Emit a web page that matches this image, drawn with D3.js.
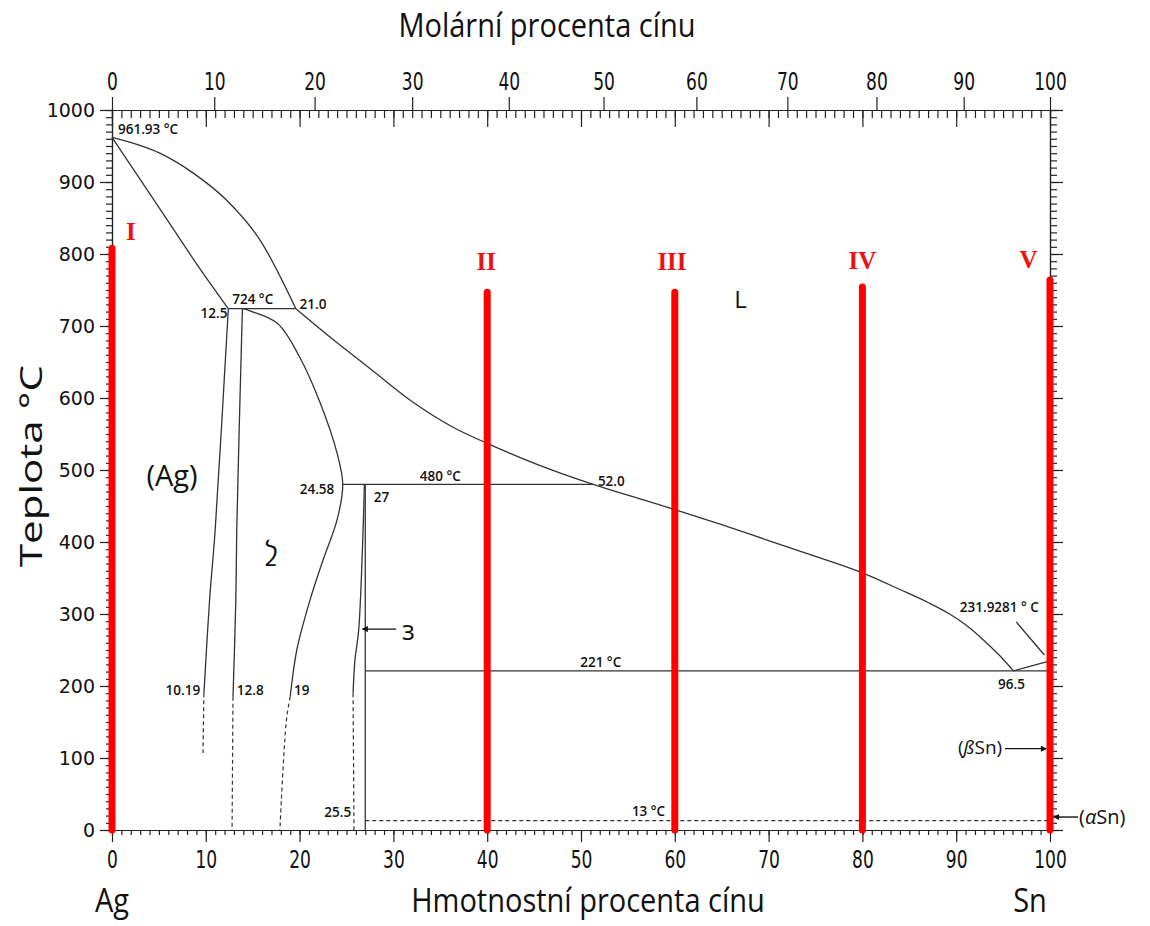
<!DOCTYPE html>
<html lang="cs">
<head>
<meta charset="utf-8">
<title>Fázový diagram Ag-Sn</title>
<script src="https://d3js.org/d3.v7.min.js"></script>
<style>
  body { margin: 0; background: #fff; }
  .osa path, .osa line { stroke: #222; stroke-width: 1.2; }
  .osa-dole text, .osa-nahore text { font-family: "Liberation Sans Narrow", "DejaVu Sans Condensed", sans-serif; font-size: 19px; fill: #111; }
  .osa-vlevo text { font-family: "DejaVu Sans", Verdana, sans-serif; font-size: 19px; fill: #111; }
  .titul { font-family: "Open Sans", sans-serif; font-size: 29px; font-weight: 500; fill: #111; }
  .cisla { font-family: "Open Sans", sans-serif; font-size: 13.5px; font-weight: 600; fill: #111; }
  .faze { font-family: "Open Sans", sans-serif; fill: #111; }
  .rimske { font-family: "Liberation Serif", "DejaVu Serif", serif; font-weight: bold; font-size: 25px; fill: #ee1111; }
  .krivka { fill: none; stroke: #333; stroke-width: 1.3; }
  .carkovana { fill: none; stroke: #333; stroke-width: 1.2; stroke-dasharray: 4 3; }
  .cervena { stroke: #ff0000; stroke-width: 7; stroke-linecap: round; }
</style>
</head>
<body>
<div id="chart"></div>
<script>
"use strict"

// popisky os
var hmotTicks = [0, 10, 20, 30, 40, 50, 60, 70, 80, 90, 100];
var molTicks = [0, 10, 20, 30, 40, 50, 60, 70, 80, 90, 100];
// poloha molarnich procent na hmotnostni ose
var molTicksHmot = [0, 10.9, 21.6, 32.0, 42.3, 52.4, 62.3, 72.0, 81.5, 90.8, 100];
var teplotaTicks = [0, 100, 200, 300, 400, 500, 600, 700, 800, 900, 1000];

// krivky diagramu [hm. % Sn, teplota]
var likvidusHorni = [[0, 962], [5.1, 940], [8.7, 912], [12.2, 875], [15.8, 819], [19.6, 724]];
var likvidusDolni = [[19.6, 724], [23.2, 685], [27.5, 641], [32.1, 594], [36.4, 559], [40, 537],
  [44.9, 510], [51.3, 480], [57, 457], [60, 445], [65, 424], [70, 402], [75, 380], [80, 357],
  [84, 334], [87, 316], [89.3, 300], [91, 285], [92.9, 264], [94.5, 244], [96.1, 221]];
var likvidusSn = [[96.1, 221], [100, 235]];
var solidusAg = [[0, 962], [5.8, 849], [9.4, 779], [12.4, 724]];
var solvusAg = [[12.4, 724], [11.0, 417], [10.4, 319], [9.8, 190]];
var solvusAgCarky = [[9.8, 190], [9.7, 107]];
var zetaLeva = [[13.9, 724], [13.3, 417], [13.2, 319], [12.9, 185]];
var zetaLevaCarky = [[12.9, 185], [12.8, 0]];
var zetaPrava = [[14.0, 724], [14.7, 721], [17.6, 704], [20.0, 657], [22.2, 593], [24.0, 523], [24.6, 480],
  [24.0, 431], [22.5, 375], [21.1, 319], [19.7, 250], [19.0, 185]];
var zetaPravaCarky = [[19.0, 185], [18.6, 153], [17.9, 0]];
var epsLeva = [[26.9, 480], [26.8, 430], [26.3, 278], [25.9, 236], [25.7, 190]];
var epsLevaCarky = [[25.7, 190], [25.8, 0]];
var epsPrava = [[27.0, 480], [27.0, 0]];
var izotermy = [[[12.4, 724], [19.6, 724]], [[24.6, 480], [51.3, 480]], [[27.0, 221], [100, 221]]];
var izoterma13 = [[27.0, 13], [100, 13]];
var odkaz231 = [[96.4, 289], [99.4, 243]];

// cervene svisle cary (slozeni I-V)
var slozeni = [0, 40, 60, 80, 100];
var slozeniHorni = [808, 747, 747, 754, 764];
var rimskeText = ["I", "II", "III", "IV", "V"];
var rimskeHmot = [2.0, 39.9, 59.7, 80.0, 97.7];
var rimskeTepl = [819, 778, 778, 779, 781];

// ciselne popisky [text, hm. %, teplota, zarovnani]
var popisky = [
  ["961.93 °C", 0.64, 967, "start"], ["724 °C", 15.0, 731, "middle"], ["12.5", 12.3, 711, "end"],
  ["21.0", 20.0, 724, "start"], ["24.58", 23.7, 467, "end"], ["27", 27.9, 456, "start"],
  ["480 °C", 35.0, 485, "middle"], ["52.0", 51.8, 478, "start"], ["221 °C", 52.1, 226, "middle"],
  ["10.19", 9.4, 188, "end"], ["12.8", 13.3, 188, "start"], ["19", 19.4, 188, "start"],
  ["25.5", 25.5, 18, "end"], ["13 °C", 57.2, 19, "middle"], ["231.9281 ° C", 94.6, 303, "middle"],
  ["96.5", 95.9, 196, "middle"]
];

var sirkaSVG = 1150, vyskaSVG = 926;
var okraj = {top: 110, right: 100, bottom: 96, left: 112};

var svg = d3.select('#chart').append('svg')
  .attr('width', sirkaSVG).attr('height', vyskaSVG);

svg.append('defs').append('marker')
  .attr('id', 'sipka').attr('viewBox', '0 0 10 10')
  .attr('refX', 9).attr('refY', 5)
  .attr('markerWidth', 8).attr('markerHeight', 6).attr('markerUnits', 'userSpaceOnUse')
  .attr('orient', 'auto')
  .append('path').attr('d', 'M0,0 L10,5 L0,10 z').attr('fill', '#111');

var x = d3.scaleLinear().domain([0, 100]).range([okraj.left, sirkaSVG - okraj.right]);
var y = d3.scaleLinear().domain([0, 1000]).range([vyskaSVG - okraj.bottom, okraj.top]);

var dole = y(0), nahore = y(1000), vlevo = x(0), vpravo = x(100);
var minorHmot = d3.range(0, 101, 1);
var minorTepl = d3.range(0, 1001, 10);
var natazeni = 1.3; // popisky os jsou v predloze vertikalne protazene

// spodni osa
svg.append('g').attr('class', 'osa osa-dole').attr('transform', 'translate(0,' + dole + ')')
  .call(d3.axisBottom(x).tickValues(minorHmot).tickSize(5).tickSizeOuter(0).tickFormat(''));
svg.append('g').attr('class', 'osa osa-dole').attr('transform', 'translate(0,' + dole + ')')
  .call(d3.axisBottom(x).tickValues(hmotTicks).tickSize(12).tickSizeOuter(0).tickFormat(d3.format('d')))
  .selectAll('text')
    .attr('dy', null).attr('y', 38 / natazeni)
    .attr('transform', 'scale(1,' + natazeni + ')');

// horni osa
svg.append('g').attr('class', 'osa').attr('transform', 'translate(0,' + nahore + ')')
  .call(d3.axisBottom(x).tickValues(minorHmot).tickSize(8).tickSizeOuter(0).tickFormat(''));
svg.append('g').attr('class', 'osa').attr('transform', 'translate(0,' + nahore + ')')
  .call(d3.axisBottom(x).tickValues(hmotTicks).tickSize(17).tickSizeOuter(0).tickFormat(''));
svg.append('g').attr('class', 'osa osa-nahore').attr('transform', 'translate(0,' + nahore + ')')
  .call(d3.axisTop(x).tickValues(molTicksHmot).tickSize(13).tickSizeOuter(0)
    .tickFormat((d, i) => molTicks[i]))
  .selectAll('text')
    .attr('dy', null).attr('y', -20 / natazeni)
    .attr('transform', 'scale(1,' + natazeni + ')');

// leva osa
svg.append('g').attr('class', 'osa osa-vlevo').attr('transform', 'translate(' + vlevo + ',0)')
  .call(d3.axisLeft(y).tickValues(minorTepl).tickSize(6).tickSizeOuter(0).tickFormat(''));
svg.append('g').attr('class', 'osa osa-vlevo').attr('transform', 'translate(' + vlevo + ',0)')
  .call(d3.axisLeft(y).tickValues(teplotaTicks).tickSize(12).tickPadding(5).tickSizeOuter(0).tickFormat(d3.format('d')));

// prava osa
svg.append('g').attr('class', 'osa').attr('transform', 'translate(' + vpravo + ',0)')
  .call(d3.axisRight(y).tickValues(minorTepl).tickSize(7).tickSizeOuter(0).tickFormat(''));
svg.append('g').attr('class', 'osa').attr('transform', 'translate(' + vpravo + ',0)')
  .call(d3.axisRight(y).tickValues(teplotaTicks).tickSize(13).tickSizeOuter(0).tickFormat(''));

svg.selectAll('.domain').attr('stroke-width', 1.5);

// krivky
var cara = d3.line().x(d => x(d[0])).y(d => y(d[1]));
var hladkaX = d3.line().x(d => x(d[0])).y(d => y(d[1])).curve(d3.curveMonotoneX);
var hladka = d3.line().x(d => x(d[0])).y(d => y(d[1])).curve(d3.curveCatmullRom.alpha(0.5));

[likvidusHorni, likvidusDolni, solidusAg].forEach(function (k) {
  svg.append('path').attr('class', 'krivka').attr('d', hladkaX(k));
});
[zetaPrava, solvusAg, zetaLeva, epsLeva].forEach(function (k) {
  svg.append('path').attr('class', 'krivka').attr('d', hladka(k));
});
[likvidusSn, epsPrava, odkaz231].concat(izotermy).forEach(function (k) {
  svg.append('path').attr('class', 'krivka').attr('d', cara(k));
});
[solvusAgCarky, zetaLevaCarky, epsLevaCarky, izoterma13].forEach(function (k) {
  svg.append('path').attr('class', 'carkovana').attr('d', cara(k));
});
svg.append('path').attr('class', 'carkovana').attr('d', hladka(zetaPravaCarky));

// cervene cary
svg.selectAll('.cervena').data(slozeni).enter().append('line')
  .attr('class', 'cervena')
  .attr('x1', d => x(d)).attr('x2', d => x(d))
  .attr('y1', (d, i) => y(slozeniHorni[i])).attr('y2', dole);

svg.selectAll('.rimske').data(rimskeText).enter().append('text')
  .attr('class', 'rimske').attr('text-anchor', 'middle')
  .attr('x', (d, i) => x(rimskeHmot[i])).attr('y', (d, i) => y(rimskeTepl[i]))
  .text(d => d);

// ciselne popisky
svg.selectAll('.cisla').data(popisky).enter().append('text')
  .attr('class', 'cisla')
  .attr('x', d => x(d[1])).attr('y', d => y(d[2]))
  .attr('text-anchor', d => d[3])
  .text(d => d[0]);

// oznaceni fazi
svg.append('text').attr('class', 'faze').attr('font-size', 24).attr('font-weight', 500)
  .attr('x', x(67)).attr('y', y(725)).attr('text-anchor', 'middle').text('L');
svg.append('text').attr('class', 'faze').attr('font-size', 29)
  .attr('x', x(6.4)).attr('y', y(478)).attr('text-anchor', 'middle').text('(Ag)');
svg.append('text').attr('class', 'faze').attr('font-size', 27)
  .attr('text-anchor', 'middle').attr('dominant-baseline', 'central')
  .attr('transform', 'translate(' + x(17) + ',' + y(381) + ') rotate(180)').text('ζ');
svg.append('text').attr('class', 'faze').attr('font-size', 27)
  .attr('text-anchor', 'middle').attr('dominant-baseline', 'central')
  .attr('transform', 'translate(' + x(31.6) + ',' + y(279) + ') scale(-1,1)').text('ε');
svg.append('text').attr('class', 'faze').attr('font-size', 19)
  .attr('x', x(94.9)).attr('y', y(105)).attr('text-anchor', 'end')
  .html('(<tspan font-style="italic">ß</tspan>Sn)');
svg.append('text').attr('class', 'faze').attr('font-size', 20)
  .attr('x', x(103.1)).attr('y', y(9)).attr('text-anchor', 'start')
  .html('(<tspan font-style="italic">α</tspan>Sn)');

// sipky
var sipky = [[[30.3, 279], [26.7, 279]], [[95.2, 113], [99.6, 113]], [[103.0, 18], [100.4, 18]]];
sipky.forEach(function (s) {
  svg.append('path').attr('d', cara(s)).attr('stroke', '#111').attr('stroke-width', 1.4)
    .attr('fill', 'none').attr('marker-end', 'url(#sipka)');
});

// nazvy os
function titul(text, tx, ty, otoceni) {
  svg.append('text').attr('class', 'titul').attr('text-anchor', 'middle')
    .attr('transform', 'translate(' + tx + ',' + ty + ')' + otoceni)
    .text(text);
}
titul('Molární procenta cínu', 547, 37, ' scale(1,1.15)');
titul('Teplota °C', 42, (nahore + dole) / 2 - 4, ' rotate(-90) scale(1.45,1.05)');
titul('Hmotnostní procenta cínu', 588, 912, ' scale(1,1.1)');
titul('Ag', vlevo, 912, ' scale(1,1.1)');
titul('Sn', 1030, 912, ' scale(1,1.1)');
</script>
</body>
</html>
